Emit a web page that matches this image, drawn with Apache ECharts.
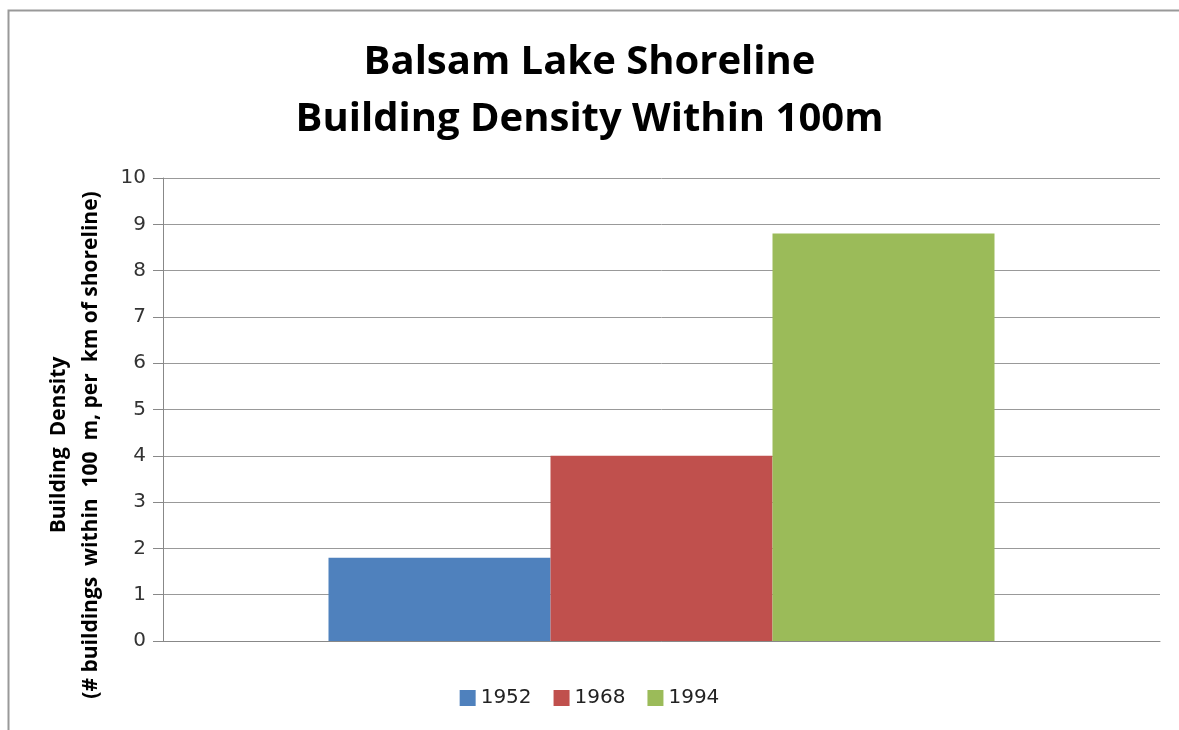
<!DOCTYPE html>
<html>
<head>
<meta charset="utf-8">
<script src="https://cdn.jsdelivr.net/npm/echarts@6/dist/echarts.min.js"></script>
<style>
html, body { margin: 0; padding: 0; background: #fff; }
#chart { width: 1179px; height: 730px; }
</style>
</head>
<body>
<div id="chart"></div>
<script>
var categories = ['Balsam Lake'];
var years = ['1952', '1968', '1994'];
var density1952 = [1.8];
var density1968 = [4.0];
var density1994 = [8.8];
var colors = ['#4f81bd', '#c0504d', '#9bbb59'];

var chart = echarts.init(document.getElementById('chart'));
var font = '"Open Sans", "Liberation Sans", sans-serif';
var numFont = '"DejaVu Sans", sans-serif';

var option = {
	animation: false,
	color: colors,
	title: {
		text: 'Balsam Lake Shoreline\nBuilding Density Within 100m',
		left: 'center',
		top: 29,
		textStyle: {
			fontFamily: font,
			fontWeight: 'bold',
			fontSize: 40,
			lineHeight: 57,
			color: '#000'
		}
	},
	grid: {
		left: 163,
		right: 19,
		top: 178,
		bottom: 89
	},
	legend: {
		top: 683,
		left: 'center',
		itemWidth: 16,
		itemHeight: 16,
		itemGap: 22,
		icon: 'rect',
		textStyle: { fontFamily: numFont, fontSize: 20, color: '#222' },
		data: years
	},
	xAxis: {
		type: 'category',
		data: categories,
		axisLine: { lineStyle: { color: '#888' } },
		axisTick: { show: false },
		axisLabel: { show: false }
	},
	yAxis: {
		type: 'value',
		min: 0,
		max: 10,
		interval: 1,
		axisLine: { show: true, lineStyle: { color: '#888' } },
		axisTick: { show: true, length: 10, lineStyle: { color: '#888' } },
		axisLabel: { fontFamily: numFont, fontSize: 20, color: '#333', margin: 17 },
		splitLine: { lineStyle: { color: '#999' } }
	},
	graphic: [{
		type: 'rect',
		left: 6,
		top: 8,
		shape: { width: 1300, height: 800 },
		style: { fill: 'none', stroke: '#999', lineWidth: 2 },
		silent: true
	}, {
		type: 'text',
		x: 59,
		y: 445,
		rotation: Math.PI / 2,
		style: {
			text: 'Building  Density',
			fontFamily: font,
			fontWeight: 'bold',
			fontSize: 21,
			fill: '#000',
			align: 'center',
			verticalAlign: 'middle'
		}
	}, {
		type: 'text',
		x: 91,
		y: 445,
		rotation: Math.PI / 2,
		style: {
			text: '(# buildings  within  100  m, per  km of shoreline)',
			fontFamily: font,
			fontWeight: 'bold',
			fontSize: 21,
			fill: '#000',
			align: 'center',
			verticalAlign: 'middle'
		}
	}],
	series: [{
		name: years[0],
		type: 'bar',
		data: density1952,
		barWidth: 222,
		barGap: '0%'
	}, {
		name: years[1],
		type: 'bar',
		data: density1968,
		barWidth: 222,
		barGap: '0%'
	}, {
		name: years[2],
		type: 'bar',
		data: density1994,
		barWidth: 222,
		barGap: '0%'
	}]
};
chart.setOption(option);
</script>
</body>
</html>
